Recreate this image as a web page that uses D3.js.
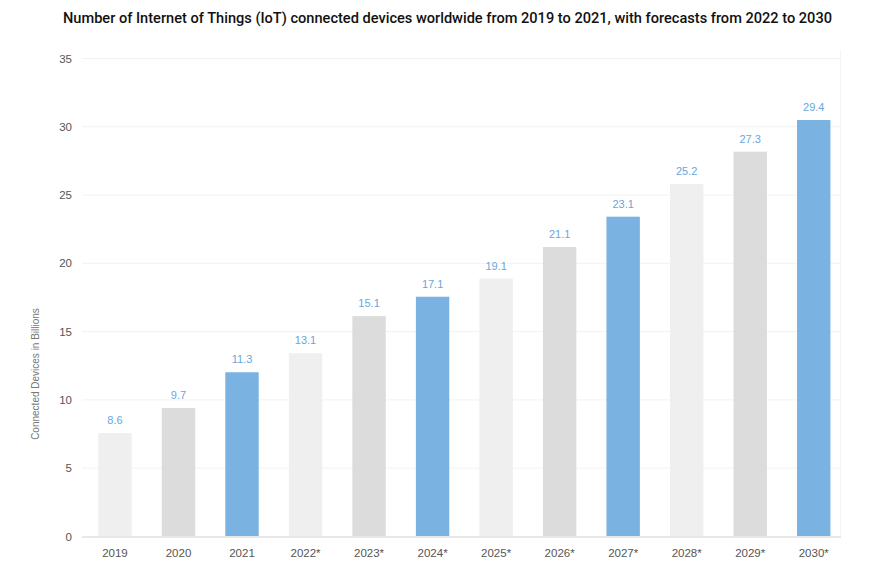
<!DOCTYPE html>
<html><head><meta charset="utf-8">
<script src="https://cdn.jsdelivr.net/npm/d3@7"></script>
<style>body{margin:0;background:#fff}svg{display:block}</style>
</head><body>
<svg id="c" width="870" height="572"></svg>
<script>
const categories = ["2019","2020","2021","2022*","2023*","2024*","2025*","2026*","2027*","2028*","2029*","2030*"];
const barValues = [7.54, 9.37, 11.99, 13.38, 16.1, 17.52, 18.84, 21.16, 23.38, 25.77, 28.14, 30.46];
const valueLabels = ["8.6","9.7","11.3","13.1","15.1","17.1","19.1","21.1","23.1","25.2","27.3","29.4"];
const yTicks = [0,5,10,15,20,25,30,35];
const barColors = ["#efefef","#dcdcdc","#7ab3e1"];
const title = "Number of Internet of Things (IoT) connected devices worldwide from 2019 to 2021, with forecasts from 2022 to 2030";
const yTitle = "Connected Devices in Billions";

const svg = d3.select("#c");
const font = "'Liberation Sans', Arial, sans-serif";
const x = d3.scaleBand().domain(categories).range([83.2, 845.5]).paddingInner(0.474).paddingOuter(0.237);
const y = d3.scaleLinear().domain([0,35]).range([536, 58]);

svg.append("text").attr("x", 447.5).attr("y", 23).attr("text-anchor","middle")
  .attr("font-family", "Roboto, 'Liberation Sans', sans-serif").attr("font-size", 14).attr("font-weight", 500)
  .attr("fill","#111").attr("textLength", 769).attr("lengthAdjust","spacingAndGlyphs").text(title);

// grid
svg.append("g").selectAll("line").data(yTicks.filter(d=>d>0)).join("line")
  .attr("x1", 82).attr("x2", 840).attr("y1", d=>y(d)+0.5).attr("y2", d=>y(d)+0.5)
  .attr("stroke","#f2f2f2").attr("stroke-width",1);
svg.append("line").attr("x1",840.5).attr("x2",840.5).attr("y1",50).attr("y2",536).attr("stroke","#f4f4f4");

// y axis
const yAxis = d3.axisLeft(y).tickValues(yTicks).tickSize(0).tickPadding(0);
const gy = svg.append("g").attr("transform","translate(72,0)").call(yAxis);
gy.select(".domain").remove();
gy.selectAll("text").attr("font-family", font).attr("font-size", 11.5).attr("fill","#555").attr("dy","0.35em");

// bars
svg.append("g").selectAll("rect").data(categories).join("rect")
  .attr("x", d=>x(d)).attr("width", x.bandwidth())
  .attr("y", (d,i)=>y(barValues[i])).attr("height", (d,i)=>y(0)-y(barValues[i]))
  .attr("fill", (d,i)=>barColors[i%3]);

// labels
svg.append("g").selectAll("text").data(categories).join("text")
  .attr("x", d=>x(d)+x.bandwidth()/2).attr("y", (d,i)=>y(barValues[i])-9)
  .attr("text-anchor","middle").attr("font-family", font).attr("font-size", 11)
  .attr("fill","#6aa6dc").text((d,i)=>valueLabels[i]);

// x axis
svg.append("line").attr("x1",82).attr("x2",841).attr("y1",537).attr("y2",537).attr("stroke","#e8e8e8").attr("stroke-width",2);
const xAxis = d3.axisBottom(x).tickSize(0).tickPadding(0);
const gx = svg.append("g").attr("transform","translate(0,553)").call(xAxis);
gx.select(".domain").remove();
gx.selectAll("text").attr("font-family", font).attr("font-size", 11.5).attr("fill","#555").attr("dy","0.35em");

svg.append("text").attr("transform","translate(39,374) rotate(-90)").attr("text-anchor","middle")
  .attr("font-family", font).attr("font-size", 10).attr("fill","#777").text(yTitle);
</script>
</body></html>
